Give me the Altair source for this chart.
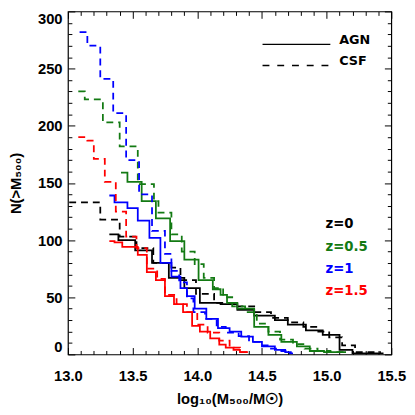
import altair as alt
import pandas as pd

Z_LABELS = ["z=0", "z=0.5", "z=1", "z=1.5"]
Z_COLORS = ["#000000", "#137a13", "#0000ff", "#ff0000"]
MODELS = ["AGN", "CSF"]

X_TICKS = [13.0, 13.5, 14.0, 14.5, 15.0, 15.5]
Y_TICKS = [0, 50, 100, 150, 200, 250, 300]

# step positions in log10(M500/Msun) (last entry = end of curve) and N(>M500)
z0_agn_x = [13.32, 13.39, 13.52, 13.65, 13.78, 13.90, 14.02, 14.18, 14.31, 14.44,
            14.60, 14.70, 14.84, 14.97, 15.10, 15.20, 15.44]
z0_agn_y = [105, 100, 91, 80, 67, 58, 45, 44, 39, 34, 30, 26, 21, 17, 4, 1]

z0_csf_x = [13.01, 13.25, 13.40, 13.53, 13.66, 13.80, 13.87, 13.99, 14.13, 14.30,
            14.44, 14.57, 14.70, 14.82, 14.92, 15.02, 15.12, 15.22, 15.42]
z0_csf_y = [133, 118, 103, 93, 80, 76, 65, 53, 45, 42, 37, 32, 28, 24, 20, 15, 8, 2]

z05_agn_x = [13.41, 13.46, 13.57, 13.68, 13.79, 13.90, 14.01, 14.12, 14.18, 14.23,
             14.31, 14.44, 14.55, 14.65, 14.77, 14.87, 14.98, 15.15]
z05_agn_y = [159, 151, 134, 119, 99, 83, 65, 57, 52, 45, 40, 24, 17, 11, 7, 3, 2]

z05_csf_x = [13.08, 13.13, 13.27, 13.40, 13.54, 13.665, 13.70, 13.80, 13.88, 13.98,
             14.05, 14.13, 14.20, 14.27, 14.37, 14.46, 14.55, 14.64, 14.74, 14.83,
             14.93, 15.03, 15.13]
z05_csf_y = [230, 223, 203, 182, 149, 134, 124, 105, 90, 79, 67, 58, 50, 42, 37,
             27, 20, 13, 9, 5, 3, 2]

z1_agn_x = [13.32, 13.36, 13.46, 13.54, 13.63, 13.715, 13.80, 13.87, 13.92, 13.98,
            14.07, 14.16, 14.25, 14.34, 14.43, 14.50, 14.60, 14.68, 14.73]
z1_agn_y = [139, 133, 128, 117, 102, 80, 68, 58, 51, 40, 31, 23, 20, 15.5, 11, 7, 4, 2]

z1_csf_x = [13.09, 13.15, 13.25, 13.35, 13.45, 13.55, 13.65, 13.75, 13.80, 13.86,
            13.92, 13.97, 14.06, 14.15, 14.22, 14.32, 14.40, 14.48, 14.57, 14.65,
            14.70, 14.74]
z1_csf_y = [282, 270, 241, 211, 170, 140, 108, 88, 73, 63, 49, 37, 31, 24, 19, 16,
            11, 8, 5, 3, 1]

z15_agn_x = [13.32, 13.36, 13.42, 13.54, 13.61, 13.68, 13.75, 13.82, 13.89, 13.96,
             14.02, 14.10, 14.17, 14.22, 14.28, 14.33, 14.39]
z15_agn_y = [99, 98, 94, 87, 72, 65, 51, 44, 37, 25, 20, 14, 8.5, 6, 4, 2]

z15_csf_x = [13.08, 13.15, 13.20, 13.285, 13.37, 13.45, 13.53, 13.61, 13.69, 13.75,
             13.84, 13.92, 14.00, 14.08, 14.17, 14.25, 14.33, 14.40]
z15_csf_y = [190, 187, 171, 151, 125, 103, 93, 75, 66, 52, 44, 37, 26, 19, 12, 6, 2]

series = [
    ("z=0", "AGN", z0_agn_x, z0_agn_y), ("z=0", "CSF", z0_csf_x, z0_csf_y),
    ("z=0.5", "AGN", z05_agn_x, z05_agn_y), ("z=0.5", "CSF", z05_csf_x, z05_csf_y),
    ("z=1", "AGN", z1_agn_x, z1_agn_y), ("z=1", "CSF", z1_csf_x, z1_csf_y),
    ("z=1.5", "AGN", z15_agn_x, z15_agn_y), ("z=1.5", "CSF", z15_csf_x, z15_csf_y),
]

rows = []
for z, m, xs, ys in series:
    yy = list(ys) + [ys[-1]]
    for i, (x, y) in enumerate(zip(xs, yy)):
        rows.append({"z": z, "model": m, "series": z + " " + m, "x": x, "y": y, "i": i})
df = pd.DataFrame(rows)

FONT = "Liberation Sans"
LFONT = "DejaVu Sans"
W, H = 329, 349
xscale = alt.Scale(domain=[13.0, 15.5], nice=False, zero=False)
yscale = alt.Scale(domain=[0, 300], nice=False, zero=False)

lines = alt.Chart(df).mark_line(interpolate="step-after", strokeWidth=1.8, clip=True).encode(
    x=alt.X("x:Q", scale=xscale, axis=alt.Axis(
        orient="bottom", values=X_TICKS, format=".1f", ticks=False, tickSize=0,
        domain=False, grid=False, labelPadding=15, labelFontSize=15, labelFlush=False,
        title="log₁₀(M₅₀₀/M☉)", titleFontSize=15, titleY=50, titleBaseline="alphabetic")),
    y=alt.Y("y:Q", scale=yscale, axis=alt.Axis(
        orient="left", values=Y_TICKS, ticks=False, tickSize=0, domain=False, grid=False,
        labelPadding=6, labelFontSize=15, labelFlush=True,
        title="N(>M₅₀₀)", titleFontSize=15, titleX=-48, titleY=H / 2, titleAngle=-90,
        titleBaseline="alphabetic", titleAlign="center")),
    color=alt.Color("z:N", scale=alt.Scale(domain=Z_LABELS, range=Z_COLORS), legend=None),
    strokeDash=alt.StrokeDash("model:N", scale=alt.Scale(domain=MODELS, range=[[1, 0], [7, 5]]), legend=None),
    detail="series:N",
    order="i:Q",
)


def tick_layer(xorient, yorient, xvals, yvals, size):
    return alt.Chart(df).mark_point(opacity=0, size=1).encode(
        x=alt.X("x:Q", scale=xscale, axis=alt.Axis(
            orient=xorient, values=xvals, labels=False, domain=False, grid=False,
            ticks=True, tickSize=size, offset=-size, title="", tickColor="black", tickWidth=1)),
        y=alt.Y("y:Q", scale=yscale, axis=alt.Axis(
            orient=yorient, values=yvals, labels=False, domain=False, grid=False,
            ticks=True, tickSize=size, offset=-size, title="", tickColor="black", tickWidth=1)),
    )


x_minor = [round(13 + 0.1 * k, 1) for k in range(26) if k % 5]
y_minor = [10 * k for k in range(31) if k % 5]

t1 = tick_layer("bottom", "left", X_TICKS, Y_TICKS, 7)
t2 = tick_layer("bottom", "left", x_minor, y_minor, 4)
t3 = tick_layer("top", "right", X_TICKS, Y_TICKS, 7)
t4 = tick_layer("top", "right", x_minor, y_minor, 4)

one = pd.DataFrame({"k": [0]})
leg_layers = []
for j, (m, dash) in enumerate(zip(MODELS, [[1, 0], [7, 8]])):
    yy = 33.5 + j * 21.5
    leg_layers.append(alt.Chart(one).mark_rule(color="black", strokeWidth=1.5, strokeDash=dash).encode(
        x=alt.value(198), x2=alt.value(267), y=alt.value(yy)))
    leg_layers.append(alt.Chart(one).mark_text(
        align="left", baseline="alphabetic", font=LFONT, fontSize=13, fontWeight="bold",
        color="black", text=m).encode(x=alt.value(276), y=alt.value(yy)))

for j, (lab, col) in enumerate(zip(Z_LABELS, Z_COLORS)):
    leg_layers.append(alt.Chart(one).mark_text(
        align="left", baseline="alphabetic", font=LFONT, fontSize=13.5, fontWeight="bold",
        color=col, text=lab).encode(x=alt.value(262), y=alt.value(220.5 + j * 22.8)))

chart = alt.layer(lines, t1, t2, t3, t4, *leg_layers).resolve_axis(
    x="independent", y="independent"
).properties(
    width=W, height=H,
    autosize=alt.AutoSizeParams(type="none"),
    padding={"left": 61, "top": 0, "right": 16, "bottom": 50},
).configure_view(stroke="black", strokeWidth=1.2).configure_axis(
    labelFont=FONT, labelFontWeight="bold", labelColor="black",
    titleFont=FONT, titleFontWeight="bold", titleColor="black",
)

chart.save("out.html", embed_options={"renderer": "svg", "actions": False})
